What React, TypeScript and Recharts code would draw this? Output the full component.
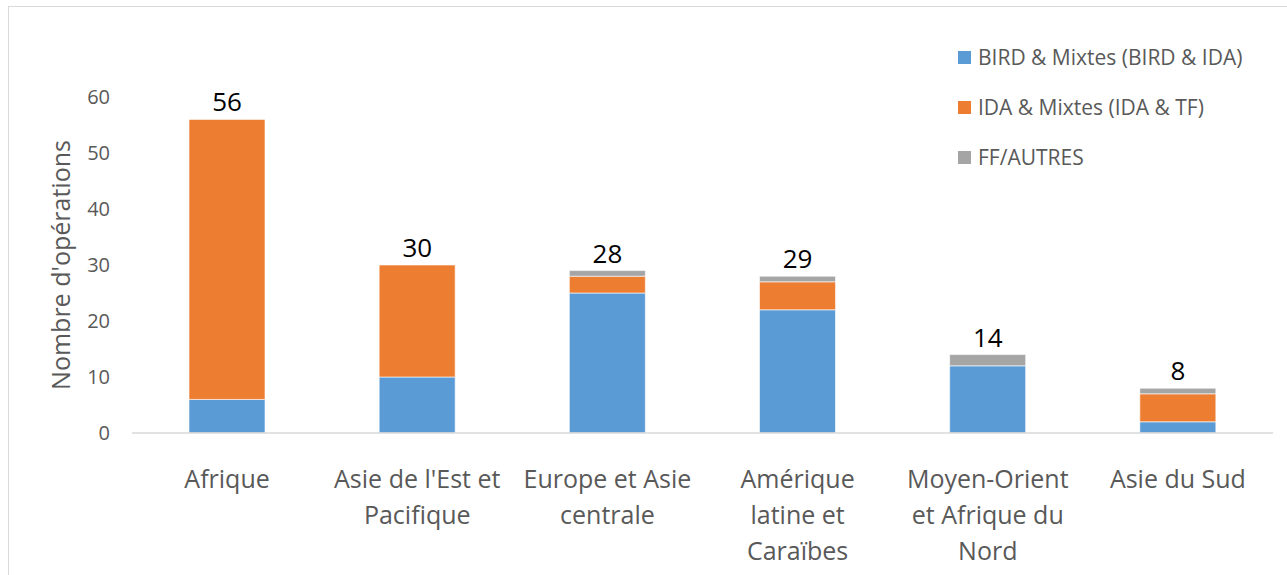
import React from 'react';
import { ComposedChart, Bar, Line, XAxis, YAxis, Legend, LabelList, Label } from 'recharts';

const REGIONS = [
  'Afrique',
  "Asie de l'Est et\nPacifique",
  'Europe et Asie\ncentrale',
  'Amérique\nlatine et\nCaraïbes',
  'Moyen-Orient\net Afrique du\nNord',
  'Asie du Sud',
];
const BIRD = [6, 10, 25, 22, 12, 2];
const IDA = [50, 20, 3, 5, 0, 5];
const FF_AUTRES = [0, 0, 1, 1, 2, 1];
const TOTAL_LABELS = ['56', '30', '28', '29', '14', '8'];
const Y_TICKS = [0, 10, 20, 30, 40, 50, 60];

const SERIES = [
  { key: 'bird', name: 'BIRD & Mixtes (BIRD & IDA)', color: '#5B9BD5' },
  { key: 'ida', name: 'IDA & Mixtes (IDA & TF)', color: '#ED7D31' },
  { key: 'ff', name: 'FF/AUTRES', color: '#A5A5A5' },
];

const data = REGIONS.map((region, i) => ({
  region,
  bird: BIRD[i],
  ida: IDA[i],
  ff: FF_AUTRES[i],
  total: BIRD[i] + IDA[i] + FF_AUTRES[i],
  label: TOTAL_LABELS[i],
}));

const FONT = '"Open Sans", sans-serif';

const RegionTick = (props: any) => {
  const { x, y, payload } = props;
  const lines = String(payload.value).split('\n');
  return (
    <text x={x} y={y} textAnchor="middle" fill="#595959" fontSize={25} fontFamily={FONT}>
      {lines.map((l, i) => (
        <tspan key={i} x={x} dy={i === 0 ? 47 : 36}>{l}</tspan>
      ))}
    </text>
  );
};

const TotalLabel = (props: any) => {
  const { x, y, value } = props;
  return (
    <text x={x} y={y - 8} textAnchor="middle" fill="#000" fontSize={26} fontFamily={FONT}>
      {value}
    </text>
  );
};

const LegendBox = () => (
  <div style={{ fontFamily: FONT, fontSize: 21, color: '#595959' }}>
    {SERIES.map((s) => (
      <div key={s.key} style={{ display: 'flex', alignItems: 'center', height: 50 }}>
        <span style={{ width: 13, height: 13, background: s.color, marginRight: 7, display: 'inline-block' }} />
        <span>{s.name}</span>
      </div>
    ))}
  </div>
);

export default function App() {
  return (
    <div style={{ position: 'absolute', left: 0, top: 0, width: 1287, height: 575, background: '#fff', overflow: 'hidden' }}>
      <div style={{ position: 'absolute', left: 8, top: 6, width: 1300, height: 600, border: '1px solid #d9d9d9' }} />
      <ComposedChart
        width={1287}
        height={575}
        data={data}
        margin={{ top: 97, right: 14, bottom: 0, left: 0 }}
        style={{ position: 'absolute', left: 0, top: 0 }}
      >
        <XAxis
          dataKey="region"
          interval={0}
          height={142}
          axisLine={{ stroke: '#d9d9d9', strokeWidth: 1.5 }}
          tickLine={false}
          tick={<RegionTick />}
        />
        <YAxis
          width={132}
          domain={[0, 60]}
          ticks={Y_TICKS}
          axisLine={false}
          tickLine={false}
          tickSize={0}
          tickMargin={22}
          tick={{ fill: '#595959', fontSize: 20, fontFamily: FONT }}
        >
          <Label
            content={(p: any) => {
              const vb = p.viewBox;
              const cx = 60;
              const cy = vb.y + vb.height / 2;
              return (
                <text
                  x={cx}
                  y={cy}
                  transform={`rotate(-90 ${cx} ${cy})`}
                  textAnchor="middle"
                  dominantBaseline="central"
                  fill="#595959"
                  fontSize={25}
                  fontFamily={FONT}
                >
                  Nombre d'opérations
                </text>
              );
            }}
          />
        </YAxis>
        <Legend
          layout="horizontal"
          verticalAlign="middle"
          align="center"
          content={<LegendBox />}
          wrapperStyle={{ left: 958, top: 32, width: 'auto' }}
        />
        {SERIES.map((s) => (
          <Bar
            key={s.key}
            dataKey={s.key}
            name={s.name}
            stackId="a"
            fill={s.color}
            stroke="#ffffff"
            strokeWidth={0.6}
            barSize={76}
            isAnimationActive={false}
          />
        ))}
        <Line
          dataKey="total"
          stroke="none"
          dot={false}
          activeDot={false}
          legendType="none"
          isAnimationActive={false}
        >
          <LabelList dataKey="label" content={<TotalLabel />} />
        </Line>
      </ComposedChart>
    </div>
  );
}
